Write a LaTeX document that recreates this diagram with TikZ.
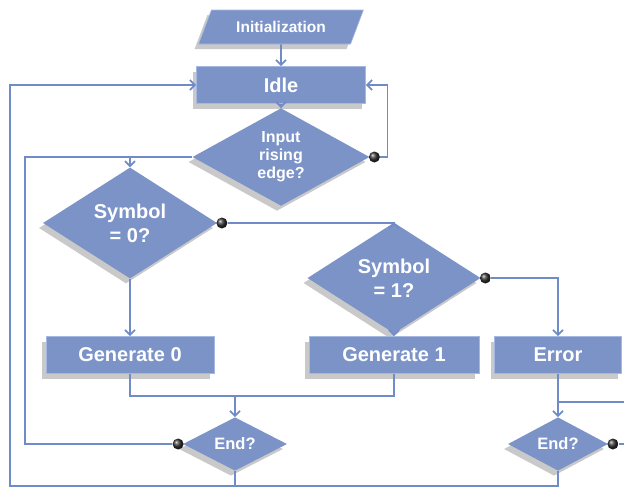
\documentclass[tikz,border=0pt]{standalone}
\usepackage{fontspec}
\setmainfont{Liberation Sans}
\usepackage{tikz}
\usetikzlibrary{positioning,arrows.meta,shapes.geometric,shadows}
\definecolor{boxblue}{RGB}{124,147,200}
\definecolor{boxrim}{RGB}{165,184,226}
\definecolor{lineblue}{RGB}{112,140,200}

\begin{document}
\begin{tikzpicture}[
x=1pt,y=-1pt,
dropshade/.style={drop shadow={shadow xshift=-4pt,shadow yshift=-5pt,opacity=.3,fill=black!70}},
procbox/.style={
rectangle,fill=boxblue,draw=boxrim,line width=.6pt,dropshade,
text=white,font=\fontsize{20}{24}\selectfont\bfseries,
minimum height=37pt,inner sep=0pt
},
decision/.style={
diamond,fill=boxblue,dropshade,
text=white,align=center,inner sep=0pt
},
iobox/.style={
trapezium,trapezium left angle=54,trapezium right angle=126,trapezium stretches=true,
fill=boxblue,draw=boxrim,line width=.6pt,dropshade,
text=white,font=\fontsize{15.5}{18}\selectfont\bfseries,inner sep=0pt
},
link/.style={draw=lineblue,line width=1.8pt},
arrow/.style={link,-{Straight Barb[length=5pt,width=10pt]}},
dot/.style={circle,shading=ball,ball color=black!80,minimum size=11pt,inner sep=0pt}
]
\useasboundingbox (0,0) rectangle (624,488);

\node[iobox,minimum width=165pt,minimum height=34pt] (init) at (281,27) {Initialization};
\node[procbox,minimum width=169pt] (idle) at (281,85) {Idle};
\node[decision,minimum width=177pt,minimum height=87pt,font=\fontsize{16}{18}\selectfont\bfseries] (edge) at (281,157) {Input\\rising\\edge?};
\node[decision,minimum width=174pt,minimum height=77pt,font=\fontsize{20}{24}\selectfont\bfseries] (sym0) at (130,223) {Symbol\\= 0?};
\node[decision,minimum width=173pt,minimum height=75pt,font=\fontsize{20}{24}\selectfont\bfseries] (sym1) at (394,278) {Symbol\\= 1?};
\node[procbox,minimum width=168pt] (gen0) at (130,355) {Generate 0};
\node[procbox,minimum width=170pt] (gen1) at (394,355) {Generate 1};
\node[procbox,minimum width=127pt] (err) at (558,355) {Error};
\node[decision,minimum width=104pt,minimum height=52pt,font=\fontsize{16.5}{20}\selectfont\bfseries] (end0) at (235,444) {End?};
\node[decision,minimum width=100pt,minimum height=52pt,font=\fontsize{16.5}{20}\selectfont\bfseries] (end1) at (558,444) {End?};

% "no" outlets
\node[dot,right=-1pt of edge.east] (dEdge) {};
\node[dot,right=-1pt of sym0.east] (dSym0) {};
\node[dot,right=-1pt of sym1.east] (dSym1) {};
\node[dot,left=-1pt of end0.west] (dEnd0) {};
\node[dot,right=-1pt of end1.east] (dEnd1) {};

\coordinate (lft) at (25,0);
\coordinate (bot) at (10,486);
\coordinate (merge0) at (235,396);
\coordinate (merge1) at (558,402);
\coordinate (outR) at (624,402);
\coordinate (outE) at (624,444);

\draw[arrow] (init) -- (idle);
\draw[arrow] (idle) -- (edge);
\draw[arrow] (dEdge) -- ++(13,0) |- (idle.east);
\draw[arrow] (edge.west) -| (sym0.north);
\draw[link] (dEnd0) -| (lft |- edge.west) -- (edge.west);
\draw[arrow] (sym0) -- (gen0);
\draw[arrow] (dSym0) -| (sym1.north);
\draw[arrow] (sym1) -- (gen1);
\draw[arrow] (dSym1) -| (err.north);
\draw[link] (gen0.south) |- (merge0) -| (gen1.south);
\draw[arrow] (merge0) -- (end0);
\draw[link] (err.south) -- (merge1) -- (outR);
\draw[arrow] (merge1) -- (end1);
\draw[link] (dEnd1) -- (outE);
\draw[link] (end0.south) -- (end0.south |- bot);
\draw[arrow] (end1.south) -- (end1.south |- bot) -- (bot) |- (idle.west);

\end{tikzpicture}
\end{document}
